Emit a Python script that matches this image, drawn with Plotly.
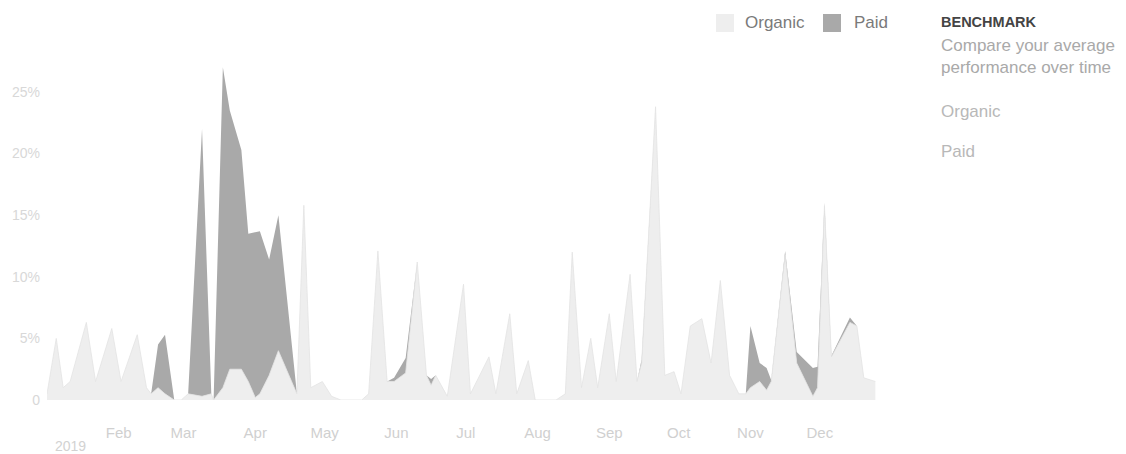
import plotly.graph_objects as go

dates = ["2019-01-01", "2019-01-05", "2019-01-08", "2019-01-11", "2019-01-18", "2019-01-22",
         "2019-01-29", "2019-02-02", "2019-02-09", "2019-02-13", "2019-02-15", "2019-02-18",
         "2019-02-21", "2019-02-25", "2019-02-28", "2019-03-03", "2019-03-09", "2019-03-13",
         "2019-03-14", "2019-03-18", "2019-03-21", "2019-03-26", "2019-03-29", "2019-04-01",
         "2019-04-03", "2019-04-07", "2019-04-11", "2019-04-19", "2019-04-22", "2019-04-25",
         "2019-04-30", "2019-05-04", "2019-05-08", "2019-05-17", "2019-05-20", "2019-05-24",
         "2019-05-28", "2019-05-31", "2019-06-05", "2019-06-10", "2019-06-14", "2019-06-16",
         "2019-06-18", "2019-06-23", "2019-06-30", "2019-07-03", "2019-07-11", "2019-07-14",
         "2019-07-20", "2019-07-23", "2019-07-28", "2019-07-31", "2019-08-09", "2019-08-13",
         "2019-08-16", "2019-08-20", "2019-08-24", "2019-08-27", "2019-09-01", "2019-09-04",
         "2019-09-10", "2019-09-13", "2019-09-15", "2019-09-21", "2019-09-25", "2019-09-29",
         "2019-10-02", "2019-10-06", "2019-10-11", "2019-10-15", "2019-10-19", "2019-10-23",
         "2019-10-27", "2019-10-30", "2019-11-01", "2019-11-05", "2019-11-08", "2019-11-10",
         "2019-11-16", "2019-11-21", "2019-11-28", "2019-11-30", "2019-12-03", "2019-12-06",
         "2019-12-14", "2019-12-17", "2019-12-20", "2019-12-25"]

organic = [0.5, 5.0, 1.0, 1.5, 6.3, 1.5,
           5.8, 1.5, 5.3, 1.0, 0.5, 1.0,
           0.5, 0.0, 0.0, 0.5, 0.3, 0.5,
           0.0, 1.0, 2.5, 2.5, 1.5, 0.2,
           0.5, 2.0, 4.0, 0.5, 15.8, 1.0,
           1.5, 0.3, 0.0, 0.0, 0.5, 12.1,
           1.5, 1.5, 2.2, 11.2, 2.0, 1.2,
           2.0, 0.3, 9.4, 0.5, 3.5, 0.5,
           7.0, 0.5, 3.2, 0.0, 0.0, 0.5,
           12.0, 1.0, 5.0, 1.0, 7.0, 1.5,
           10.2, 1.5, 3.0, 23.8, 2.0, 2.3,
           0.5, 6.0, 6.6, 3.0, 9.7, 2.0,
           0.5, 0.5, 1.0, 1.5, 0.8, 1.5,
           11.8, 3.0, 0.3, 1.0, 15.7, 3.5,
           6.3, 6.0, 1.8, 1.5]

paid = [0.0, 0.0, 0.0, 0.0, 0.0, 0.0,
        0.0, 0.0, 0.0, 0.0, 0.0, 3.5,
        4.8, 0.0, 0.0, 0.0, 21.7, 0.0,
        0.0, 26.0, 21.0, 17.8, 12.0, 13.4,
        13.2, 9.4, 11.0, 0.0, 0.0, 0.0,
        0.0, 0.0, 0.0, 0.0, 0.0, 0.0,
        0.0, 0.3, 1.2, 0.0, 0.0, 0.5,
        0.0, 0.0, 0.0, 0.0, 0.0, 0.0,
        0.0, 0.0, 0.0, 0.0, 0.0, 0.0,
        0.0, 0.0, 0.0, 0.0, 0.0, 0.0,
        0.0, 0.0, 0.3, 0.0, 0.0, 0.0,
        0.0, 0.0, 0.0, 0.0, 0.0, 0.0,
        0.0, 0.0, 5.0, 1.5, 1.8, 0.1,
        0.3, 0.9, 2.3, 1.7, 0.3, 0.1,
        0.4, 0.0, 0.0, 0.0]

month_ticks = ["2019-02-01", "2019-03-01", "2019-04-01", "2019-05-01", "2019-06-01", "2019-07-01",
               "2019-08-01", "2019-09-01", "2019-10-01", "2019-11-01", "2019-12-01"]
month_labels = ["Feb", "Mar", "Apr", "May", "Jun", "Jul", "Aug", "Sep", "Oct", "Nov", "Dec"]
y_ticks = [0, 5, 10, 15, 20, 25]
y_labels = ["0", "5%", "10%", "15%", "20%", "25%"]

series_names = ["Organic", "Paid"]
series_fill = ["#eeeeee", "#a9a9a9"]
series_line = ["#e3e3e3", "#a9a9a9"]
series_lw = [0.8, 0]

FONT = "Liberation Sans, Arial, sans-serif"

fig = go.Figure()
for name, vals, fc, lc, lw in zip(series_names, [organic, paid], series_fill, series_line, series_lw):
    fig.add_trace(go.Scatter(
        x=dates, y=vals, name=name, mode="lines", stackgroup="one",
        line=dict(width=lw, color=lc), fillcolor=fc, showlegend=False,
    ))

# the page body has an 8px margin: figure coords = page coords - 8
OFF = 8
W, H = 1126, 446
L = 47 - OFF
R = W - (880 - OFF)
T = 55 - OFF
B = H - (400 - OFF)
pw = W - L - R
ph = H - T - B

def px(x):
    return (x - OFF - L) / pw

def py(y):
    return (H - B - (y - OFF)) / ph

shapes = []
annotations = []
# legend (drawn manually to get square swatches)
legend_swatch_x = [716, 823]
legend_text_x = [743, 852]
for name, fc, sx, tx in zip(series_names, series_fill, legend_swatch_x, legend_text_x):
    shapes.append(dict(type="rect", xref="paper", yref="paper",
                       x0=px(sx), x1=px(sx + 18), y0=py(32), y1=py(14),
                       fillcolor=fc, line=dict(width=0)))
    annotations.append(dict(text=name, xref="paper", yref="paper", x=px(tx), y=py(22),
                            xanchor="left", yanchor="middle", showarrow=False,
                            font=dict(size=17, color="#7a7a7a")))

side = [("<b>BENCHMARK</b>", 22, 14.5, "#444444"),
        ("Compare your average", 46, 17, "#a9a9a9"),
        ("performance over time", 67, 17, "#a9a9a9"),
        ("Organic", 111, 17, "#b8b8b8"),
        ("Paid", 151, 17, "#b8b8b8")]
for txt, yy, sz, col in side:
    annotations.append(dict(text=txt, xref="paper", yref="paper", x=px(939), y=py(yy),
                            xanchor="left", yanchor="middle", showarrow=False,
                            font=dict(size=sz, color=col)))

annotations.append(dict(text="2019", xref="paper", yref="paper", x=px(53), y=py(446),
                        xanchor="left", yanchor="middle", showarrow=False,
                        font=dict(size=14, color="#d2d2d2")))

fig.update_layout(
    width=W, height=H,
    margin=dict(l=L, r=R, t=T, b=B, autoexpand=False),
    paper_bgcolor="white", plot_bgcolor="white",
    font=dict(family=FONT, color="#888888"),
    showlegend=False,
    xaxis=dict(
        type="date", range=["2019-01-01", "2019-12-27"], automargin=False,
        tickvals=month_ticks, ticktext=month_labels,
        showgrid=False, zeroline=False, showline=False, ticks="",
        tickfont=dict(size=15, color="#d0d0d0"), ticklabelstandoff=22,
    ),
    yaxis=dict(
        range=[0, 28], tickvals=y_ticks, ticktext=y_labels, automargin=False,
        showgrid=False, zeroline=False, showline=False, ticks="",
        tickfont=dict(size=14, color="#d8d8d8"), ticklabelstandoff=6,
    ),
    shapes=shapes,
    annotations=annotations,
)

fig.write_html("out.html")
